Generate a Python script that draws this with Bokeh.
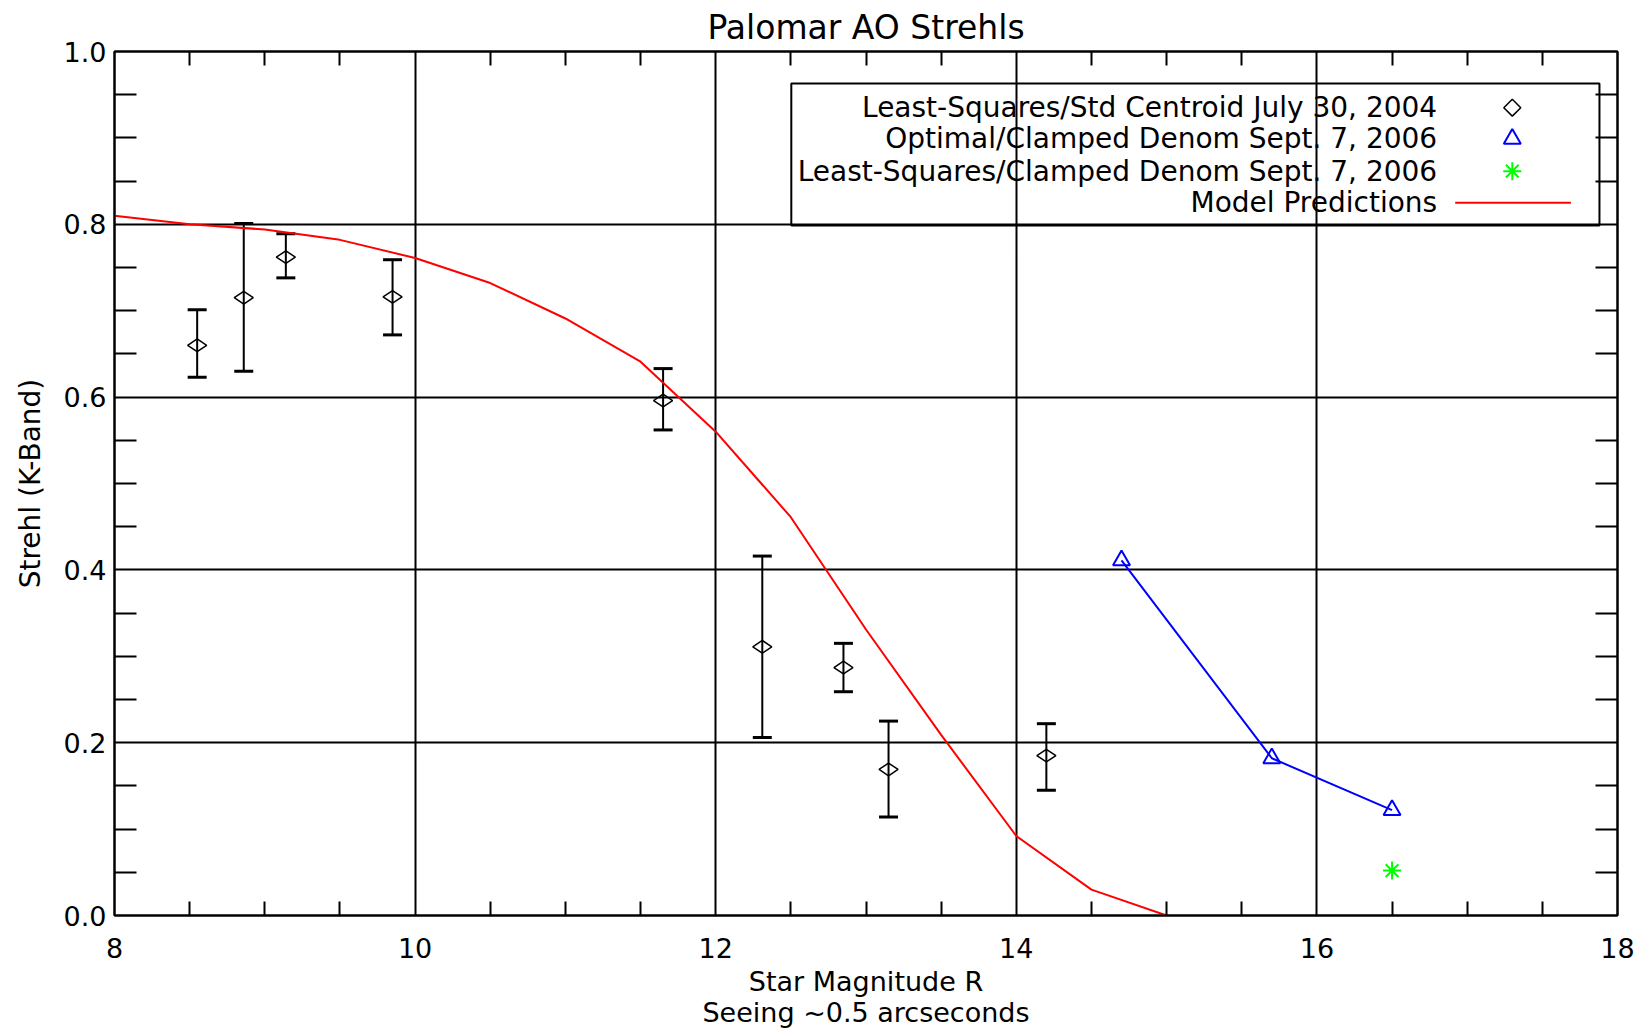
import math
import numpy as np
from bokeh.plotting import figure
from bokeh.models import (Range1d, FixedTicker, LinearAxis, Whisker, TeeHead,
                          ColumnDataSource, Grid)
from bokeh.embed import file_html
from bokeh.resources import INLINE
from bokeh.core.properties import value

# ---------------- data ----------------
# Least-Squares/Std Centroid July 30, 2004 (with error bars)
ls_mag = [8.55, 8.86, 9.14, 9.85, 11.65, 12.31, 12.85, 13.15, 14.20]
ls_strehl = [0.660, 0.715, 0.762, 0.716, 0.596, 0.311, 0.287, 0.169, 0.185]
ls_upper = [0.701, 0.801, 0.789, 0.759, 0.633, 0.416, 0.315, 0.225, 0.222]
ls_lower = [0.623, 0.630, 0.738, 0.672, 0.562, 0.206, 0.259, 0.114, 0.145]

# Optimal/Clamped Denom Sept. 7, 2006
opt_mag = [14.7, 15.7, 16.5]
opt_strehl = [0.411, 0.182, 0.122]

# Least-Squares/Clamped Denom Sept. 7, 2006
lsc_mag = [16.5]
lsc_strehl = [0.052]

# Model predictions
model_mag = [8.0, 8.5, 9.0, 9.5, 10.0, 10.5, 11.0, 11.5, 12.0, 12.5, 13.0, 13.5, 14.0, 14.5, 15.0]
model_strehl = [0.810, 0.800, 0.794, 0.782, 0.761, 0.732, 0.691, 0.641, 0.560, 0.461,
                0.331, 0.209, 0.092, 0.030, 0.0]

legend_labels = ["Least-Squares/Std Centroid July 30, 2004",
                 "Optimal/Clamped Denom Sept. 7, 2006",
                 "Least-Squares/Clamped Denom Sept. 7, 2006",
                 "Model Predictions"]

x_ticks = [8, 10, 12, 14, 16, 18]
x_tick_labels = ["8", "10", "12", "14", "16", "18"]
y_ticks = [0.0, 0.2, 0.4, 0.6, 0.8, 1.0]
y_tick_labels = ["0.0", "0.2", "0.4", "0.6", "0.8", "1.0"]

title_text = "Palomar AO Strehls"
x_title = "Star Magnitude R\nSeeing ~0.5 arcseconds"
y_title = "Strehl (K-Band)"

# ---------------- style ----------------
FONT = "DejaVu Sans"
FS = "27px"
BLACK = "black"
RED = "#ff0000"
BLUE = "#0000ff"
GREEN = "#00ff00"

x_minor = [float(v) for v in np.arange(8.0, 18.01, 0.5) if abs(v - round(v / 2) * 2) > 1e-6]
y_minor = [float(v) for v in np.arange(0.0, 1.001, 0.05) if abs(v * 5 - round(v * 5)) > 1e-6]

p = figure(width=1640, height=1030, x_range=Range1d(8, 18), y_range=Range1d(0, 1),
           x_axis_type=None, y_axis_type=None,
           output_backend="svg", toolbar_location=None,
           min_border_left=114, min_border_right=23, min_border_top=50, min_border_bottom=114,
           title=title_text)
p.title.align = "center"
p.title.text_font = FONT
p.title.text_font_size = "33px"
p.title.text_font_style = "normal"
p.title.text_color = BLACK
p.title.standoff = 10
p.outline_line_color = BLACK
p.outline_line_width = 2
p.background_fill_color = "white"
p.border_fill_color = "white"


def style_axis(ax, minor_len):
    ax.axis_line_color = BLACK
    ax.axis_line_width = 2
    ax.major_tick_in = 0
    ax.major_tick_out = 0
    ax.minor_tick_in = minor_len
    ax.minor_tick_out = 0
    ax.minor_tick_line_color = BLACK
    ax.minor_tick_line_width = 2
    ax.major_label_text_font = FONT
    ax.major_label_text_font_size = FS
    ax.major_label_text_color = BLACK
    ax.axis_label_text_font = FONT
    ax.axis_label_text_font_size = FS
    ax.axis_label_text_font_style = "normal"
    ax.axis_label_text_color = BLACK


xb = LinearAxis(ticker=FixedTicker(ticks=x_ticks, minor_ticks=x_minor),
                major_label_overrides={t: l for t, l in zip(x_ticks, x_tick_labels)},
                axis_label=x_title)
style_axis(xb, 14)
xb.major_label_standoff = 22
xb.axis_label_standoff = 5
xb.axis_label_text_line_height = 1.0
p.add_layout(xb, "below")

xt = LinearAxis(ticker=FixedTicker(ticks=[], minor_ticks=x_minor))
style_axis(xt, 14)
xt.major_label_standoff = 0
xt.axis_label_standoff = 0
p.add_layout(xt, "above")

yl = LinearAxis(ticker=FixedTicker(ticks=y_ticks, minor_ticks=y_minor),
                major_label_overrides={t: l for t, l in zip(y_ticks, y_tick_labels)},
                axis_label=y_title)
style_axis(yl, 22)
yl.axis_label_text_font_size = "28px"
yl.major_label_standoff = 8
yl.axis_label_standoff = 14
p.add_layout(yl, "left")

yr = LinearAxis(ticker=FixedTicker(ticks=[], minor_ticks=y_minor))
style_axis(yr, 22)
yr.major_label_standoff = 0
yr.axis_label_standoff = 0
p.add_layout(yr, "right")

p.add_layout(Grid(dimension=0, ticker=FixedTicker(ticks=x_ticks),
                  grid_line_color=BLACK, grid_line_width=2))
p.add_layout(Grid(dimension=1, ticker=FixedTicker(ticks=y_ticks),
                  grid_line_color=BLACK, grid_line_width=2))

# model line
p.line(model_mag, model_strehl, line_color=RED, line_width=2)

# error bars + diamonds
src = ColumnDataSource(dict(x=ls_mag, y=ls_strehl, upper=ls_upper, lower=ls_lower))
wh = Whisker(source=src, base="x", upper="upper", lower="lower", dimension="height",
             line_color=BLACK, line_width=2,
             upper_head=TeeHead(size=19, line_color=BLACK, line_width=3),
             lower_head=TeeHead(size=19, line_color=BLACK, line_width=3))
p.add_layout(wh)
p.scatter("x", "y", source=src, marker="diamond", size=19, angle=math.pi / 2,
          fill_color=None, line_color=BLACK, line_width=1.5)

# optimal series
p.line(opt_mag, opt_strehl, line_color=BLUE, line_width=2)
p.scatter(opt_mag, opt_strehl, marker="triangle", size=17, fill_color=None,
          line_color=BLUE, line_width=2)

# least-squares clamped
p.scatter(lsc_mag, lsc_strehl, marker="asterisk", size=18, line_color=GREEN, line_width=2)

# ---------------- manual legend (layout in data units) ----------------
leg_left, leg_right, leg_top, leg_bottom = 12.503, 17.88, 0.963, 0.7985
leg_text_x = 16.80
leg_sym_x = 17.30
leg_rows = [0.935, 0.899, 0.8615, 0.825]

p.quad(left=[leg_left], right=[leg_right], top=[leg_top], bottom=[leg_bottom],
       fill_color=None, line_color=BLACK, line_width=2)
p.text(x=[leg_text_x] * 4, y=leg_rows, text=legend_labels, text_align="right",
       text_baseline="middle", text_font=value(FONT), text_font_size="28px", text_color=BLACK)
p.scatter([leg_sym_x], [leg_rows[0]], marker="square", size=12, angle=math.pi / 4,
          fill_color=None, line_color=BLACK, line_width=1.5)
p.scatter([leg_sym_x], [leg_rows[1]], marker="triangle", size=17, fill_color=None,
          line_color=BLUE, line_width=2)
p.scatter([leg_sym_x], [leg_rows[2]], marker="asterisk", size=18, line_color=GREEN, line_width=2)
p.segment(x0=[16.92], y0=[leg_rows[3]], x1=[17.69], y1=[leg_rows[3]],
          line_color=RED, line_width=2)

open("out.html", "w").write(file_html(p, INLINE))
